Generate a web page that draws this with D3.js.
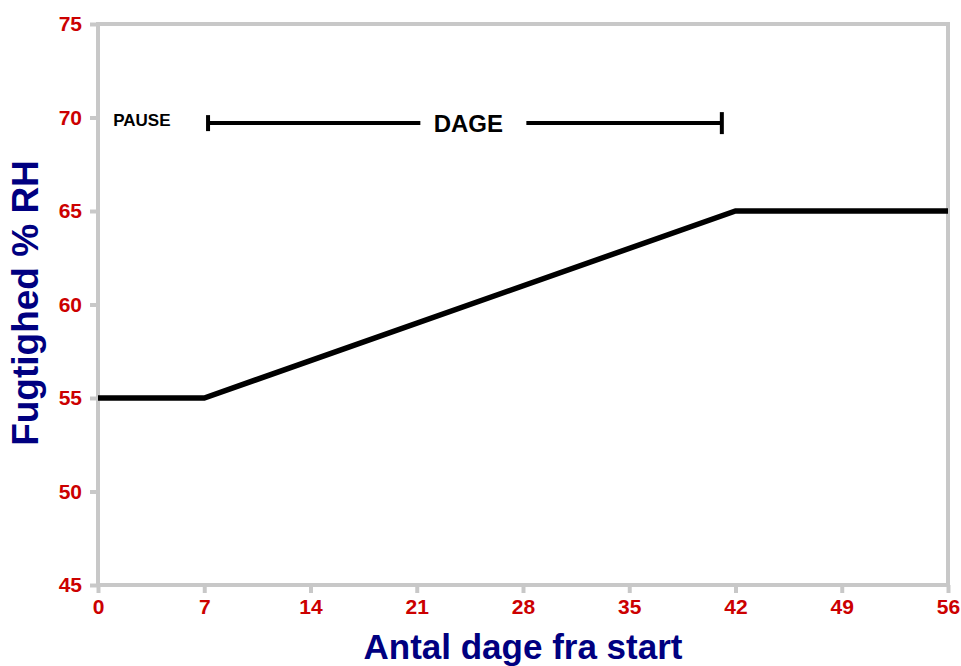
<!DOCTYPE html>
<html>
<head>
<meta charset="utf-8">
<script src="https://cdn.jsdelivr.net/npm/d3@7"></script>
<style>
  body { margin: 0; background: #fff; }
  svg { display: block; font-family: "Liberation Sans", Arial, sans-serif; }
</style>
</head>
<body>
<div id="chart"></div>
<script>
// data
var days = [0, 7, 42, 56];
var humidity = [55, 55, 65, 65];
var xTicks = [0, 7, 14, 21, 28, 35, 42, 49, 56];
var yTicks = [45, 50, 55, 60, 65, 70, 75];
var dageSpan = [7.25, 41.1];   // bracket ends (days)
var dageLevel = 69.7;

var w = 961, h = 666;
var margin = {top: 24, right: 13, bottom: 81, left: 98};

var svg = d3.select("#chart").append("svg")
    .attr("width", w).attr("height", h);

var x = d3.scaleLinear().domain([0, 56]).range([margin.left, w - margin.right]);
var y = d3.scaleLinear().domain([45, 75]).range([h - margin.bottom, margin.top]);

var grey = "#c8c8c8", red = "#cc0000", navy = "#000080";

// frame
svg.append("rect")
    .attr("x", x(0)).attr("y", y(75))
    .attr("width", x(56) - x(0)).attr("height", y(45) - y(75))
    .attr("fill", "none").attr("stroke", grey).attr("stroke-width", 4);

// axes
var yAxis = svg.append("g")
    .attr("transform", "translate(" + x(0) + ",0)")
    .call(d3.axisLeft(y).tickValues(yTicks).tickSize(8).tickPadding(8));
var xAxis = svg.append("g")
    .attr("transform", "translate(0," + y(45) + ")")
    .call(d3.axisBottom(x).tickValues(xTicks).tickSize(8).tickPadding(6));

[xAxis, yAxis].forEach(function(g) {
  g.select(".domain").remove();
  g.selectAll("line").attr("stroke", grey).attr("stroke-width", 4);
  g.selectAll("text")
    .attr("fill", red)
    .style("font-size", "21px")
    .style("font-weight", "bold");
});

// humidity line
var line = d3.line()
    .x(function(d, i) { return x(days[i]); })
    .y(function(d) { return y(d); });

svg.append("path")
    .datum(humidity)
    .attr("d", line)
    .attr("fill", "none")
    .attr("stroke", "#000")
    .attr("stroke-width", 5.5)
    .attr("stroke-linejoin", "miter");

// annotations
svg.append("text")
    .attr("x", x(1)).attr("y", y(70) + 8)
    .attr("fill", "#000")
    .style("font-size", "17px").style("font-weight", "bold")
    .text("PAUSE");

var by = y(dageLevel);
var mid = x(24.4);
svg.append("text")
    .attr("x", mid).attr("y", by + 9)
    .attr("text-anchor", "middle")
    .attr("fill", "#000")
    .style("font-size", "24px").style("font-weight", "bold")
    .text("DAGE");

var br = svg.append("g").attr("stroke", "#000").attr("stroke-width", 4);
br.append("line").attr("x1", x(dageSpan[0])).attr("x2", mid - 48).attr("y1", by).attr("y2", by);
br.append("line").attr("x1", mid + 58).attr("x2", x(dageSpan[1])).attr("y1", by).attr("y2", by);
br.append("line").attr("x1", x(dageSpan[0])).attr("x2", x(dageSpan[0])).attr("y1", by - 8).attr("y2", by + 8);
br.append("line").attr("x1", x(dageSpan[1])).attr("x2", x(dageSpan[1])).attr("y1", by - 11).attr("y2", by + 11);

// axis titles
svg.append("text")
    .attr("x", (x(0) + x(56)) / 2).attr("y", 659)
    .attr("text-anchor", "middle")
    .attr("fill", navy)
    .style("font-size", "35px").style("font-weight", "bold")
    .text("Antal dage fra start");

svg.append("text")
    .attr("transform", "translate(38," + 303 + ") rotate(-90)")
    .attr("text-anchor", "middle")
    .attr("fill", navy)
    .style("font-size", "37px").style("font-weight", "bold")
    .text("Fugtighed % RH");
</script>
</body>
</html>
